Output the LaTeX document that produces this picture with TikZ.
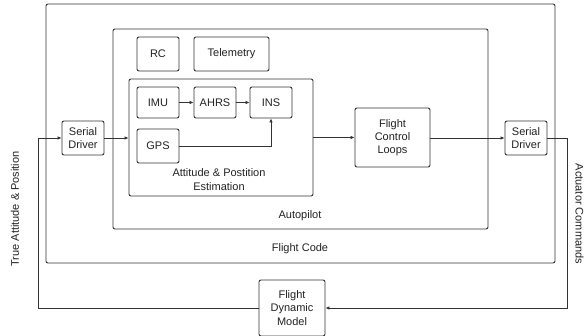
\documentclass[tikz,border=0pt]{standalone}
\usepackage{fontspec}
\setmainfont{Liberation Sans}
\usetikzlibrary{arrows.meta}
\definecolor{ln}{HTML}{333333}
\definecolor{tx}{HTML}{222222}
\begin{document}
\begin{tikzpicture}[x=1pt,y=-1pt,
  box/.style={draw=ln,line width=0.9pt,rounded corners=2pt,inner sep=0pt,align=center,
    font=\fontsize{11}{13.3}\selectfont,text=tx},
  lbl/.style={font=\fontsize{11}{13.3}\selectfont,text=tx,align=center,inner sep=0pt},
  arr/.style={draw=ln,line width=0.9pt,-{Latex[length=4pt,width=3.6pt]}},
  con/.style={draw=ln,line width=0.9pt}]
\useasboundingbox (0,0) rectangle (587,336);
\fill[white] (0,0) rectangle (587,336);
% containers
\node[box,minimum width=509pt,minimum height=259pt] (fc) at (300.5,133.5) {};
\node[lbl] (fcl1) at (300,249) {Flight Code};
\node[box,minimum width=375pt,minimum height=200pt] (ap) at (300.5,129) {};
\node[lbl] (apl) at (300,216) {Autopilot};
\node[box,minimum width=184pt,minimum height=117pt] (est) at (221,137.5) {};
\node[lbl] (estl) at (219,179.5) {Attitude \& Postition\\Estimation};
% blocks
\node[box,minimum width=42pt,minimum height=34pt] (rc) at (158,54) {RC};
\node[box,minimum width=75pt,minimum height=34pt] (tel) at (231.5,54) {Telemetry};
\node[box,minimum width=42pt,minimum height=31pt] (imu) at (158,102.5) {IMU};
\node[box,minimum width=42pt,minimum height=31pt] (ahrs) at (215,102.5) {AHRS};
\node[box,minimum width=42pt,minimum height=31pt] (ins) at (271,102.5) {INS};
\node[box,minimum width=42pt,minimum height=34pt] (gps) at (158,146) {GPS};
\node[box,minimum width=42pt,minimum height=34pt] (sd1) at (83,138) {Serial\\Driver};
\node[box,minimum width=75pt,minimum height=59pt] (fcl) at (392.5,137.5) {Flight\\Control\\Loops};
\node[box,minimum width=42pt,minimum height=34pt] (sd2) at (526,138) {Serial\\Driver};
\node[box,minimum width=66pt,minimum height=56pt] (fdm) at (292,308) {Flight\\Dynamic\\Model};
% side labels
\node[lbl,rotate=90] (tap) at (15,209) {True Attitude \& Position};
\node[lbl,rotate=-90] (act) at (579.5,214) {Actuator Commands};
% connectors
\coordinate (cl) at (38,308);
\coordinate (cr) at (567,308);
\draw[arr] (fdm.west) -- (cl) |- (sd1.west);
\draw[arr] (sd1.east) -- (sd1.east -| est.west);
\draw[arr] (imu) -- (ahrs);
\draw[arr] (ahrs) -- (ins);
\draw[arr] (gps.east) -| (ins.south);
\draw[arr] (fcl.west -| est.east) -- (fcl.west);
\draw[arr] (fcl.east |- sd2.west) -- (sd2.west);
\draw[arr] (sd2.east) -| (cr) -- (fdm.east);
\end{tikzpicture}
\end{document}
